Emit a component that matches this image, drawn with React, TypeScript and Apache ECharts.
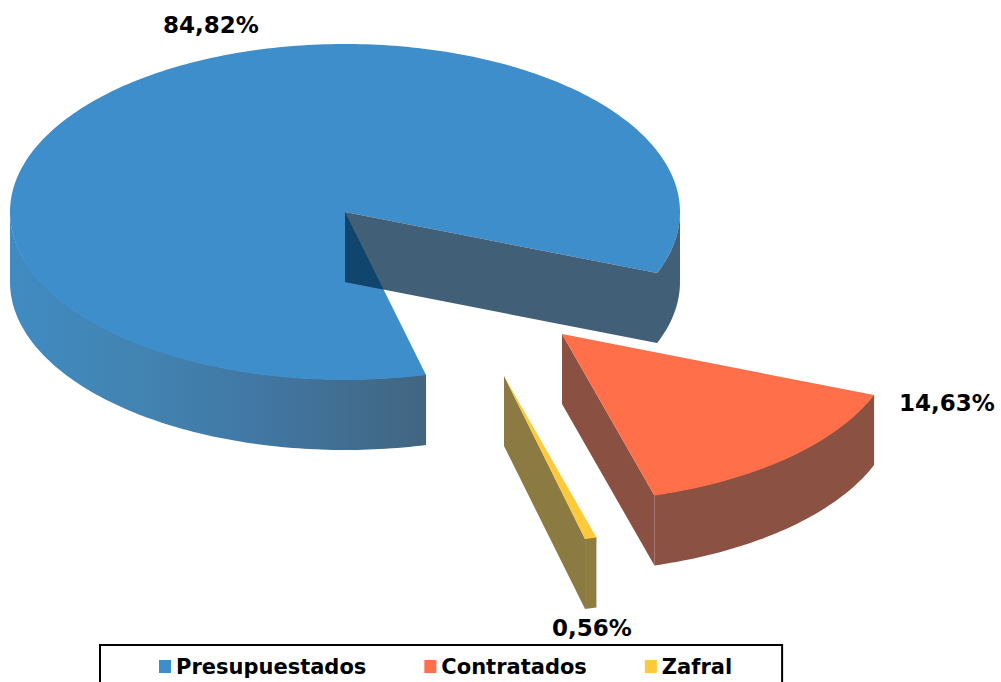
import React, { useEffect, useRef } from "react";
import * as echarts from "echarts";

const categories = ["Presupuestados", "Contratados", "Zafral"];
const shares = [84.82, 14.63, 0.56];
const topColors = ["#3F8ECC", "#FF6F49", "#FFC93C"];
const wallColors = ["#425F78", "#8A5142", "#8B7A42"];
const frontWallColors = ["#426580", "#8B5143", "#8F7D40"];

const FONT = "'DejaVu Sans', Verdana, sans-serif";
const START_DEG = 76;
const RX = 335;
const RY = 168;
const DEPTH = 70;
const SEAM = -0.6;
const centers = [
  [345, 212],
  [562, 334],
  [504, 376],
];
const labelSpots = [
  [211, 25],
  [947, 403],
  [592, 628],
];

const total = shares.reduce((a, b) => a + b, 0);

function sliceAngles(index: number) {
  let from = START_DEG;
  for (let i = 0; i < index; i++) from += (shares[i] / total) * 360;
  return [from, from + (shares[index] / total) * 360];
}

function rim(c: number[], deg: number, drop = 0) {
  const r = (deg * Math.PI) / 180;
  return [c[0] + RX * Math.cos(r), c[1] + RY * Math.sin(r) + drop];
}

function arc(c: number[], a: number, b: number, drop = 0) {
  const n = Math.max(2, Math.ceil(Math.abs(b - a)));
  const pts: number[][] = [];
  for (let i = 0; i <= n; i++) pts.push(rim(c, a + ((b - a) * i) / n, drop));
  return pts;
}

function poly(points: number[][], fill: any) {
  return { type: "polygon", shape: { points }, style: { fill, stroke: "none" } };
}

function intersect(p1: number[], p2: number[], p3: number[], p4: number[]) {
  const d = (p1[0] - p2[0]) * (p3[1] - p4[1]) - (p1[1] - p2[1]) * (p3[0] - p4[0]);
  const s = ((p1[0] - p3[0]) * (p3[1] - p4[1]) - (p1[1] - p3[1]) * (p3[0] - p4[0])) / d;
  return [p1[0] + s * (p2[0] - p1[0]), p1[1] + s * (p2[1] - p1[1])];
}

function labelOf(i: number) {
  return {
    type: "text",
    style: {
      text: shares[i].toFixed(2).replace(".", ",") + "%",
      x: labelSpots[i][0],
      y: labelSpots[i][1],
      fill: "#000000",
      fontFamily: FONT,
      fontWeight: "bold",
      fontSize: 23,
      textAlign: "center",
      textVerticalAlign: "middle",
    },
  };
}

function renderSlice(index: number) {
  const [a, b] = sliceAngles(index);
  const c = centers[index];
  const low = [c[0], c[1] + DEPTH];
  const top = poly([c, ...arc(c, a, b)], topColors[index]);
  const children: any[] = [];
  if (index === 0) {
    const gradient = new echarts.graphic.LinearGradient(0, 0, 1, 0, [
      { offset: 0, color: "#408BC2" },
      { offset: 0.3, color: "#4284B2" },
      { offset: 0.6, color: "#4177A4" },
      { offset: 0.85, color: "#416C8D" },
      { offset: 1, color: frontWallColors[0] },
    ]);
    children.push(poly([...arc(c, a, 180, SEAM), ...arc(c, 180, a, DEPTH)], gradient));
    children.push(top);
    const end = b - 360;
    children.push(
      poly([c, ...arc(c, end, 0), ...arc(c, 0, end, DEPTH), low], wallColors[0])
    );
    const hit = intersect(c, rim(c, a), low, rim(c, end, DEPTH));
    children.push(poly([c, low, hit], "#10456E"));
  } else {
    children.push(
      poly([...arc(c, a, b, SEAM), ...arc(c, b, a, DEPTH)], frontWallColors[index])
    );
    children.push(poly([c, rim(c, b), rim(c, b, DEPTH), low], wallColors[index]));
    children.push(top);
  }
  children.push(labelOf(index));
  return { type: "group", children };
}

export default function App() {
  const ref = useRef<HTMLDivElement>(null);
  useEffect(() => {
    document.body.style.margin = "0";
    const chart = echarts.init(ref.current!, undefined, { renderer: "svg" });
    chart.setOption({
      animation: false,
      backgroundColor: "#ffffff",
      legend: {
        left: 100,
        top: 645,
        orient: "horizontal",
        icon: "rect",
        itemWidth: 12,
        itemHeight: 13,
        itemGap: 58,
        padding: [11, 50, 20, 59],
        borderColor: "#000000",
        borderWidth: 2,
        textStyle: {
          color: "#000000",
          fontFamily: FONT,
          fontWeight: "bold",
          fontSize: 21,
        },
        data: categories,
      },
      series: categories.map((name, i) => ({
        type: "custom",
        name,
        coordinateSystem: "none",
        silent: true,
        clip: false,
        itemStyle: { color: topColors[i] },
        data: [[shares[i]]],
        renderItem: () => renderSlice(i),
      })),
    });
    return () => chart.dispose();
  }, []);
  return (
    <div
      ref={ref}
      style={{ position: "fixed", left: 0, top: 0, width: 1001, height: 682 }}
    />
  );
}
